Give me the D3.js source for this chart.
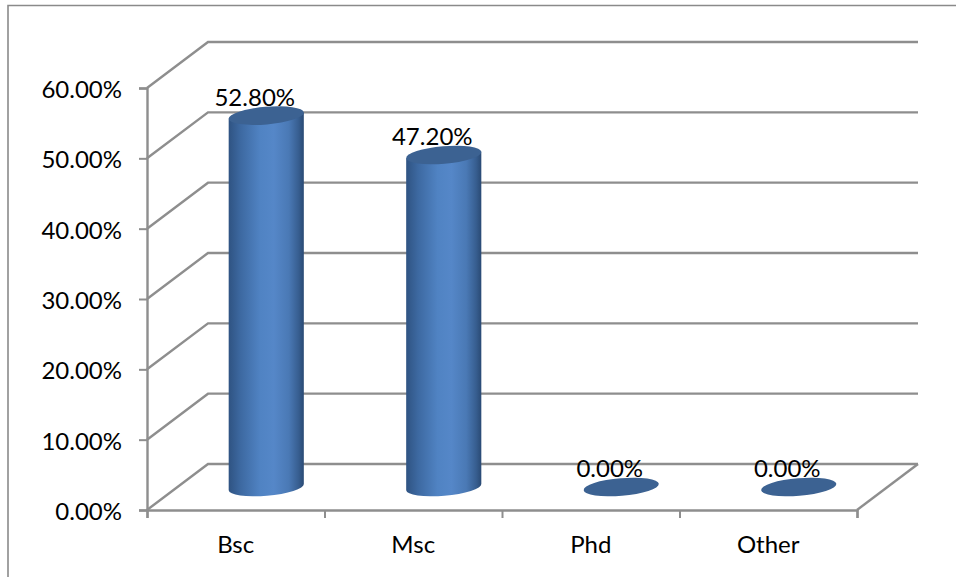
<!DOCTYPE html>
<html>
<head>
<meta charset="utf-8">
<script src="https://cdnjs.cloudflare.com/ajax/libs/d3/7.8.5/d3.min.js"></script>
<style>
  html, body { margin: 0; padding: 0; background: #fff; }
  svg { display: block; }
  text { font-family: Lato, "Open Sans", sans-serif; fill: #000; }
</style>
</head>
<body>
<svg id="chart" width="956" height="577"></svg>
<script>
const categories = ["Bsc", "Msc", "Phd", "Other"];
const shares = [52.8, 47.2, 0, 0];
const valueTicks = [0, 10, 20, 30, 40, 50, 60];

const lineColor = "#8e8e8e";
const depthX = 61, depthY = -46;      // offset of the back wall from the front plane
const cylRx = 37.7, cylRy = 8.8, cylTilt = -4.8;
const fontSize = 24;

const svg = d3.select("#chart");

const x = d3.scaleBand().domain(categories).range([147, 857]).paddingInner(0).paddingOuter(0);
const y = d3.scaleLinear().domain([0, 60]).range([510, 88]);

// Outer frame, open at the right and bottom of the page
svg.append("path")
  .attr("d", "M8,577V5.5H956")
  .attr("fill", "none").attr("stroke", "#8a8a8a").attr("stroke-width", 1.6);

// Wall grid: back lines and the diagonals that meet the value axis
const grid = svg.append("g").attr("fill", "none").attr("stroke", lineColor).attr("stroke-width", 2.4);
grid.selectAll("path.wall").data(valueTicks).join("path")
  .attr("class", "wall")
  .attr("d", d => d3.line()([
    [x.range()[0], y(d)],
    [x.range()[0] + depthX, y(d) + depthY],
    [x.range()[1] + depthX, y(d) + depthY]
  ]));
// Right edge of the floor
grid.append("path").attr("d", d3.line()([
  [x.range()[1], y(0)],
  [x.range()[1] + depthX, y(0) + depthY]
]));

// Axes on the front plane
const axisLeft = d3.axisLeft(y).tickValues(valueTicks).tickSize(8).tickPadding(17)
  .tickFormat(d => d3.format(".2f")(d) + "%");
const gy = svg.append("g").attr("transform", `translate(${x.range()[0]},0)`).call(axisLeft);

const boundaries = d3.range(categories.length + 1);
const edge = d3.scaleLinear().domain([0, categories.length]).range(x.range());
const axisBottom = d3.axisBottom(edge).tickValues(boundaries).tickSize(8).tickFormat("");
const gx = svg.append("g").attr("transform", `translate(0,${y(0)})`).call(axisBottom);

[gy, gx].forEach(g => {
  g.selectAll(".domain").attr("stroke", lineColor).attr("stroke-width", 2.4);
  g.selectAll(".tick line").attr("stroke", lineColor).attr("stroke-width", 2);
});
gy.selectAll(".tick text")
  .attr("font-size", fontSize).attr("dy", "0.4em")
  .style("font-family", "Lato, 'Open Sans', sans-serif");

// Category names centred under each front-plane slot
svg.append("g").selectAll("text").data(categories).join("text")
  .attr("x", d => x(d) + x.bandwidth() / 2)
  .attr("y", 552.5)
  .attr("text-anchor", "middle")
  .attr("font-size", fontSize)
  .text(d => d);

// Horizontal shading across a cylinder's side
const defs = svg.append("defs");
const grad = defs.append("linearGradient").attr("id", "cyl").attr("x1", 0).attr("x2", 1).attr("y1", 0).attr("y2", 0);
[[0, "#2f5382"], [0.16, "#3d69a1"], [0.42, "#5083c3"], [0.6, "#5587c8"], [0.8, "#4a79b5"], [0.93, "#375e90"], [1, "#2a4a74"]]
  .forEach(([o, c]) => grad.append("stop").attr("offset", o).attr("stop-color", c));

// End points of the ellipse's long axis, relative to its centre
const tiltRad = cylTilt * Math.PI / 180;
const edgeDx = Math.cos(tiltRad) * cylRx;
const edgeDy = Math.sin(tiltRad) * cylRx;

const bars = svg.append("g").selectAll("g").data(categories.map((c, i) => ({ c, v: shares[i] }))).join("g");

bars.each(function (d) {
  const g = d3.select(this);
  const cx = x(d.c) + x.bandwidth() / 2 + depthX / 2;
  const baseY = y(0) + depthY / 2;
  const topY = y(d.v) + depthY / 2;
  if (d.v > 0) {
    const l = cx - edgeDx, r = cx + edgeDx;
    g.append("path")
      .attr("d", `M${l},${topY - edgeDy}L${l},${baseY - edgeDy}` +
        `A${cylRx},${cylRy} ${cylTilt} 0 0 ${r},${baseY + edgeDy}` +
        `L${r},${topY + edgeDy}Z`)
      .attr("fill", "url(#cyl)");
  }
  g.append("ellipse")
    .attr("cx", cx).attr("cy", topY)
    .attr("rx", cylRx).attr("ry", cylRy)
    .attr("transform", `rotate(${cylTilt} ${cx} ${topY})`)
    .attr("fill", "#3c6292");
  g.append("text")
    .attr("x", cx - 11.5)
    .attr("y", topY - 10)
    .attr("text-anchor", "middle")
    .attr("font-size", fontSize)
    .text(d3.format(".2f")(d.v) + "%");
});
</script>
</body>
</html>
